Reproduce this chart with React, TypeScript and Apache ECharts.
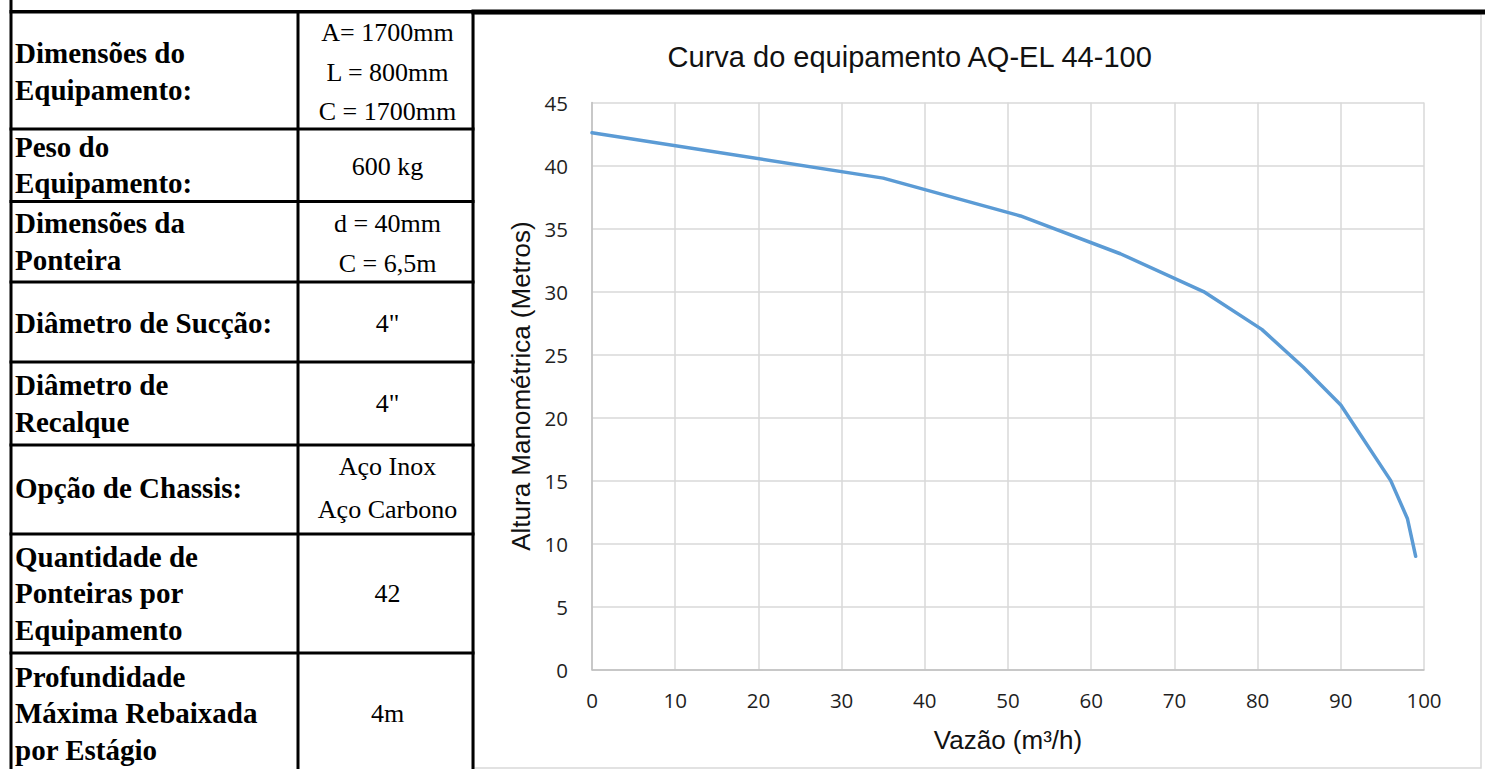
import React, { useEffect, useRef } from "react";
import * as echarts from "echarts";

// ---- Chart data ----
const flowValues = [0, 35, 51.5, 63.5, 73.5, 80.5, 85.5, 90, 96, 98, 99];
const headValues = [42.6, 39, 36, 33, 30, 27, 24, 21, 15, 12, 9];
const xRange = { min: 0, max: 100, interval: 10 };
const yRange = { min: 0, max: 45, interval: 5 };
const chartTitle = "Curva do equipamento AQ-EL 44-100";
const xAxisTitle = "Vazão (m³/h)";
const yAxisTitle = "Altura Manométrica (Metros)";

// ---- Table content ----
const rowLabels = [
  ["Dimensões do", "Equipamento:"],
  ["Peso do", "Equipamento:"],
  ["Dimensões da", "Ponteira"],
  ["Diâmetro de Sucção:"],
  ["Diâmetro de", "Recalque"],
  ["Opção de Chassis:"],
  ["Quantidade de", "Ponteiras por", "Equipamento"],
  ["Profundidade", "Máxima Rebaixada", "por Estágio"],
];
const rowValues = [
  ["A= 1700mm", "L = 800mm", "C = 1700mm"],
  ["600 kg"],
  ["d = 40mm", "C = 6,5m"],
  ['4"'],
  ['4"'],
  ["Aço Inox", "Aço Carbono"],
  ["42"],
  ["4m"],
];

// ---- Table layout (page pixels) ----
const labelBaselines = [
  [62.7, 100],
  [157, 193],
  [233, 270],
  [333],
  [395, 432],
  [498],
  [567, 603, 640],
  [687, 723, 760],
];
const valueBaselines = [
  [41.7, 81.7, 120],
  [175],
  [232, 272],
  [332],
  [412],
  [475, 518],
  [602],
  [722],
];
const rowLines = [129, 201.5, 282, 362, 445, 534, 653];

const W = 1485;
const H = 769;

function buildGraphics() {
  const els: any[] = [];
  const black = "#000";
  // chart box (light gray)
  els.push({
    type: "rect",
    shape: { x: 474, y: 14, width: 1007, height: 754 },
    style: { fill: "none", stroke: "#d9d9d9", lineWidth: 1.5 },
    z: -1,
  });
  // outer lines
  els.push({ type: "rect", shape: { x: 9.5, y: 0, width: 3, height: H }, style: { fill: black } });
  els.push({ type: "rect", shape: { x: 9.5, y: 10, width: 465, height: 3.5 }, style: { fill: black } });
  els.push({ type: "rect", shape: { x: 471.5, y: 9.5, width: W - 471.5, height: 5 }, style: { fill: black } });
  els.push({ type: "rect", shape: { x: 296.5, y: 10, width: 3, height: H - 10 }, style: { fill: black } });
  els.push({ type: "rect", shape: { x: 471.5, y: 10, width: 3, height: H - 10 }, style: { fill: black } });
  rowLines.forEach((y) => {
    els.push({ type: "rect", shape: { x: 9.5, y: y - 1.5, width: 465, height: 3 }, style: { fill: black } });
  });
  const labFs = 29;
  const valFs = 26;
  rowLabels.forEach((lines, r) => {
    lines.forEach((t, i) => {
      els.push({
        type: "text",
        x: 15,
        y: labelBaselines[r][i] - labFs * 0.3375,
        style: {
          text: t,
          fill: black,
          fontFamily: '"Liberation Serif", "Times New Roman", serif',
          fontWeight: "bold",
          fontSize: labFs,
          align: "left",
          verticalAlign: "middle",
        },
      });
    });
  });
  rowValues.forEach((lines, r) => {
    lines.forEach((t, i) => {
      els.push({
        type: "text",
        x: 387.5,
        y: valueBaselines[r][i] - valFs * 0.3375,
        style: {
          text: t,
          fill: black,
          fontFamily: '"Liberation Serif", "Times New Roman", serif',
          fontSize: valFs,
          align: "center",
          verticalAlign: "middle",
        },
      });
    });
  });
  return els;
}

export default function App() {
  const ref = useRef<HTMLDivElement>(null);
  useEffect(() => {
    if (!ref.current) return;
    const chart = echarts.init(ref.current, undefined, { renderer: "svg", width: W, height: H });
    const sans = '"Liberation Sans", Arial, sans-serif';
    const tickFont = '"Open Sans", sans-serif';
    chart.setOption({
      animation: false,
      backgroundColor: "#ffffff",
      title: {
        text: chartTitle,
        left: 909.7,
        top: 57,
        textAlign: "center",
        textVerticalAlign: "middle",
        padding: 0,
        textStyle: { fontFamily: sans, fontSize: 29, fontWeight: "normal", color: "#111" },
      },
      grid: { left: 592, right: 61, top: 102.5, bottom: 99.3, containLabel: false },
      xAxis: {
        type: "value",
        min: xRange.min,
        max: xRange.max,
        interval: xRange.interval,
        name: xAxisTitle,
        nameLocation: "middle",
        nameGap: 70,
        nameTextStyle: { fontFamily: sans, fontSize: 26, color: "#111", verticalAlign: "middle" },
        axisLine: { show: true, lineStyle: { color: "#bfbfbf", width: 1.5 } },
        axisTick: { show: false },
        splitLine: { show: true, lineStyle: { color: "#d9d9d9", width: 1.5 } },
        axisLabel: { fontFamily: tickFont, fontSize: 20.5, color: "#1f1f1f", margin: 20 },
      },
      yAxis: {
        type: "value",
        min: yRange.min,
        max: yRange.max,
        interval: yRange.interval,
        name: yAxisTitle,
        nameLocation: "middle",
        nameGap: 66,
        nameTextStyle: { fontFamily: sans, fontSize: 26, color: "#111", verticalAlign: "middle" },
        axisLine: { show: true, lineStyle: { color: "#bfbfbf", width: 1.5 } },
        axisTick: { show: false },
        splitLine: { show: true, lineStyle: { color: "#d9d9d9", width: 1.5 } },
        axisLabel: { fontFamily: tickFont, fontSize: 20.5, color: "#1f1f1f", margin: 24 },
      },
      series: [
        {
          type: "line",
          data: flowValues.map((x, i) => [x, headValues[i]]),
          symbol: "none",
          showSymbol: false,
          smooth: false,
          lineStyle: { color: "#5b9bd5", width: 3.5, cap: "round", join: "round" },
          z: 3,
        },
      ],
      graphic: buildGraphics(),
    });
    return () => chart.dispose();
  }, []);
  return (
    <div
      ref={ref}
      style={{ position: "fixed", left: 0, top: 0, width: W, height: H, background: "#fff" }}
    />
  );
}
